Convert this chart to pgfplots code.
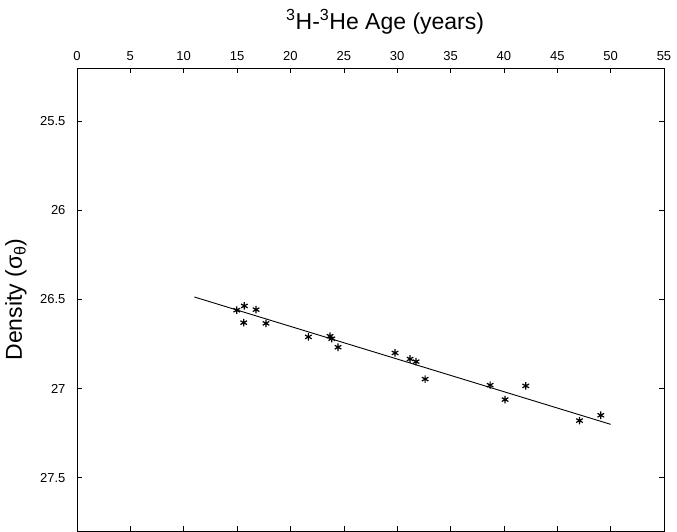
\documentclass[border=0pt]{standalone}
\usepackage{fontspec}
\setmainfont{Liberation Sans}
\usepackage{pgfplots}
\pgfplotsset{compat=1.18}
\begin{document}
\begin{tikzpicture}[x=1pt,y=1pt]
\begin{axis}[
  at={(77pt,1pt)}, anchor=south west,
  scale only axis, width=587pt, height=463pt,
  xmin=0, xmax=55, ymin=25.2, ymax=27.8,
  y dir=reverse,
  xtick={0,5,...,55},
  ytick={25.5,26,26.5,27,27.5},
  yticklabels={25.5,26,26.5,27,27.5},
  xticklabel pos=upper,
  tick align=inside,
  major tick length=5pt,
  ticklabel style={font=\fontsize{13}{15}\selectfont},
  /pgf/number format/assume math mode=true,
  yticklabel style={xshift=-8pt},
  xticklabel style={yshift=4pt},
  xlabel={\textsuperscript{3}H-\textsuperscript{3}He Age (years)},
  ylabel={Density (σ\textsubscript{θ})},
  label style={font=\fontsize{23}{27}\selectfont},
  xlabel style={at={(axis description cs:0.525,1.1)}, anchor=center},
  ylabel style={at={(axis description cs:-0.104,0.5)}, anchor=center},
  axis line style={line width=0.8pt},
  every tick/.style={line width=0.6pt,black},
  clip=false,
]
\addplot[only marks, mark=asterisk, mark size=3.8pt, mark options={line width=1.2pt}] coordinates {
(14.97,26.56) (15.68,26.536) (16.78,26.557) (15.62,26.63) (17.71,26.634)
(21.68,26.71) (23.71,26.706) (23.87,26.72) (24.46,26.768)
(29.8,26.80) (31.21,26.834) (31.77,26.849) (32.62,26.947)
(38.71,26.981) (40.11,27.062) (42.05,26.985) (47.08,27.18) (49.08,27.15)
};
\addplot[black, line width=0.9pt] coordinates {(11,26.486) (50,27.201)};
\end{axis}
\path (0,0) rectangle (677pt,532pt);
\end{tikzpicture}
\end{document}
